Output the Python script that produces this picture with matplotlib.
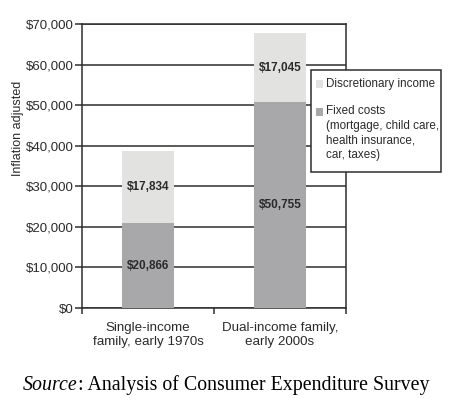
import matplotlib.pyplot as plt
from matplotlib.patches import Rectangle

# Данные графика
categories = ['Single-income\nfamily, early 1970s', 'Dual-income family,\nearly 2000s']
fixed_costs = [20866, 50755]
discretionary = [17834, 17045]
y_ticks = [0, 10000, 20000, 30000, 40000, 50000, 60000, 70000]
legend_labels = ['Discretionary income', 'Fixed costs\n(mortgage, child care,\nhealth insurance,\ncar, taxes)']

FIXED_COLOR = '#a8a7a9'
DISC_COLOR = '#e2e3e1'
LINE_COLOR = '#2e2e2e'
TEXT_COLOR = '#2a2a2a'

plt.rcParams['font.family'] = ['Liberation Sans', 'DejaVu Sans']

fig = plt.figure(figsize=(4.52, 3.98), dpi=100)
ax = fig.add_axes([82 / 452, 1 - 308 / 398, 264 / 452, 284 / 398])

x = range(len(categories))
ax.bar(x, fixed_costs, width=0.4, color=FIXED_COLOR, zorder=3)
ax.bar(x, discretionary, width=0.4, bottom=fixed_costs, color=DISC_COLOR, zorder=3)

# Подписи значений внутри сегментов
for i in x:
    ax.text(i, fixed_costs[i] / 2, f'${fixed_costs[i]:,}', ha='center', va='center',
            fontsize=8.5, fontweight='bold', color=TEXT_COLOR, zorder=4)
    ax.text(i, fixed_costs[i] + discretionary[i] / 2, f'${discretionary[i]:,}', ha='center',
            va='center', fontsize=8.5, fontweight='bold', color=TEXT_COLOR, zorder=4)

ax.set_xlim(-0.5, 1.5)
ax.set_ylim(0, 70000)
ax.set_yticks(y_ticks)
ax.set_yticklabels([f'${v:,}' for v in y_ticks])
ax.yaxis.grid(True, color=LINE_COLOR, linewidth=1.1, zorder=1)
ax.set_axisbelow(True)

ax.set_xticks([-0.5, 0.5, 1.5])
ax.set_xticklabels([])
ax.set_xticks(list(x), minor=True)
ax.set_xticklabels(categories, minor=True, fontsize=9.6, color=TEXT_COLOR, linespacing=1.2)
ax.tick_params(axis='x', which='major', length=4, width=1.1, color=LINE_COLOR)
ax.tick_params(axis='x', which='minor', length=0, pad=10)
ax.tick_params(axis='y', length=5, width=1.1, color=LINE_COLOR, labelsize=9.5,
               labelcolor=TEXT_COLOR, pad=1)

for side in ['left', 'right', 'bottom', 'top']:
    ax.spines[side].set_color(LINE_COLOR)
    ax.spines[side].set_linewidth(1.1)

fig.text(18 / 452, 1 - 128 / 398, 'Inflation adjusted', rotation=90, ha='center',
         va='center', fontsize=9, color=TEXT_COLOR)

# Легенда вручную
box = Rectangle((311 / 452, 1 - 172 / 398), 130 / 452, 102 / 398, transform=fig.transFigure,
                facecolor='white', edgecolor=LINE_COLOR, linewidth=1.1, zorder=5)
fig.add_artist(box)
fig.add_artist(Rectangle((316 / 452, 1 - 88 / 398), 7 / 452, 8 / 398, transform=fig.transFigure,
                         facecolor=DISC_COLOR, edgecolor='none', zorder=6))
fig.add_artist(Rectangle((316 / 452, 1 - 116 / 398), 7 / 452, 8 / 398, transform=fig.transFigure,
                         facecolor=FIXED_COLOR, edgecolor='none', zorder=6))
fig.text(326 / 452, 1 - 84 / 398, legend_labels[0], ha='left', va='center', fontsize=8.4,
         color=TEXT_COLOR, zorder=6)
fig.text(326 / 452, 1 - 105 / 398, legend_labels[1], ha='left', va='top', fontsize=8.4,
         color=TEXT_COLOR, linespacing=1.28, zorder=6)

# Источник
src = fig.text(23 / 452, 1 - 390 / 398, 'Source', ha='left', va='baseline', fontsize=14.35,
               family='Liberation Serif', style='italic')
plt.annotate(': Analysis of Consumer Expenditure Survey', xy=(1, 0), xycoords=src,
             ha='left', va='bottom', fontsize=14.35, family='Liberation Serif')

fig.savefig('out.png', dpi=100)
